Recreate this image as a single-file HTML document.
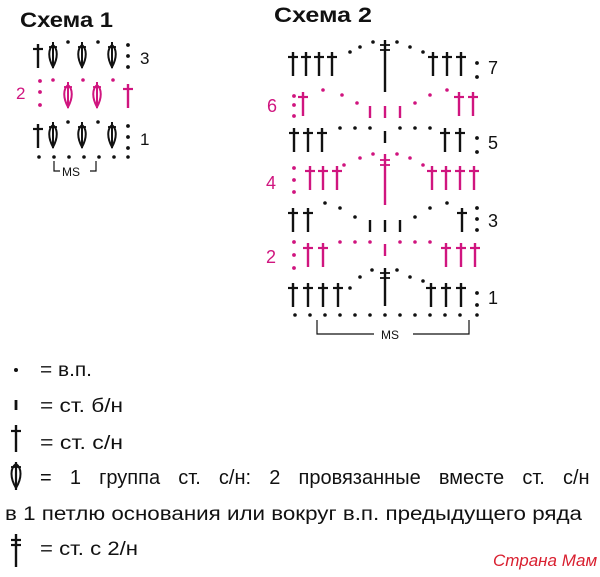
<!DOCTYPE html>
<html><head><meta charset="utf-8"><style>
html,body{margin:0;padding:0;background:#fff;}
svg{display:block;}
text{font-family:"Liberation Sans",sans-serif;}
</style></head><body>
<svg width="600" height="577" viewBox="0 0 600 577" xmlns="http://www.w3.org/2000/svg">
<defs>
<g id="dc"><line x1="0" y1="0" x2="0" y2="24" stroke-width="2.4"/><line x1="-5" y1="5" x2="5" y2="5" stroke-width="2.2"/></g>
<g id="cl"><line x1="0" y1="-2" x2="0" y2="24" stroke-width="2"/><path d="M0,1 C-5,5 -5,14 0,23 C5,14 5,5 0,1 Z" fill="none" stroke-width="2"/><line x1="-4" y1="3" x2="4" y2="3" stroke-width="1.8"/></g>
<g id="sc"><line x1="0" y1="0" x2="0" y2="12" stroke-width="2.4"/></g>
</defs>

<!-- Scheme 1 -->
<text x="20" y="27" font-size="21" font-weight="bold" fill="#111" textLength="93" lengthAdjust="spacingAndGlyphs">Схема 1</text>
<g stroke="#111" fill="#111">
<use href="#dc" x="38" y="44"/>
<use href="#cl" x="53" y="44"/><use href="#cl" x="82" y="44"/><use href="#cl" x="112" y="44"/>
<circle cx="68" cy="42" r="1.3"/><circle cx="98" cy="42" r="1.3"/>
<circle cx="128" cy="45" r="1.4"/><circle cx="128" cy="56" r="1.4"/><circle cx="128" cy="67" r="1.4"/>
<use href="#dc" x="38" y="124"/>
<use href="#cl" x="53" y="124"/><use href="#cl" x="82" y="124"/><use href="#cl" x="112" y="124"/>
<circle cx="68" cy="122" r="1.3"/><circle cx="98" cy="122" r="1.3"/>
<circle cx="128" cy="126" r="1.4"/><circle cx="128" cy="137" r="1.4"/><circle cx="128" cy="148" r="1.4"/>
<circle cx="39" cy="157" r="1.3"/><circle cx="54" cy="157" r="1.3"/><circle cx="69" cy="157" r="1.3"/><circle cx="84" cy="157" r="1.3"/><circle cx="99" cy="157" r="1.3"/><circle cx="114" cy="157" r="1.3"/><circle cx="128" cy="157" r="1.3"/>
<polyline points="54,161 54,171 60,171" fill="none" stroke-width="1.2"/>
<polyline points="90,171 96,171 96,161" fill="none" stroke-width="1.2"/>
</g>
<text x="62" y="176" font-size="12" fill="#111">MS</text>
<text x="140" y="64" font-size="17" fill="#111">3</text>
<text x="140" y="145" font-size="17" fill="#111">1</text>
<g stroke="#d0157f" fill="#d0157f">
<circle cx="40" cy="81" r="1.4"/><circle cx="40" cy="92" r="1.4"/><circle cx="40" cy="105" r="1.4"/>
<circle cx="53" cy="80" r="1.3"/><circle cx="83" cy="80" r="1.3"/><circle cx="113" cy="80" r="1.3"/>
<use href="#cl" x="68" y="84"/><use href="#cl" x="97" y="84"/>
<use href="#dc" x="128" y="84"/>
</g>
<text x="16" y="99" font-size="17" fill="#d0157f">2</text>

<!-- Scheme 2 -->
<text x="274" y="22" font-size="21" font-weight="bold" fill="#111" textLength="98" lengthAdjust="spacingAndGlyphs">Схема 2</text>
<g stroke="#111" fill="#111">
<use href="#dc" x="293" y="52"/><use href="#dc" x="306" y="52"/><use href="#dc" x="319" y="52"/><use href="#dc" x="332" y="52"/>
<use href="#dc" x="433" y="52"/><use href="#dc" x="447" y="52"/><use href="#dc" x="461" y="52"/>
<line x1="385" y1="40" x2="385" y2="92" stroke-width="2.4"/><line x1="380" y1="45" x2="390" y2="45" stroke-width="1.8"/><line x1="380" y1="50" x2="390" y2="50" stroke-width="1.8"/>
<circle cx="350" cy="52" r="1.3"/><circle cx="360" cy="47" r="1.3"/><circle cx="373" cy="42" r="1.3"/><circle cx="397" cy="42" r="1.3"/><circle cx="410" cy="47" r="1.3"/><circle cx="423" cy="52" r="1.3"/>
<circle cx="477" cy="63" r="1.4"/><circle cx="477" cy="77" r="1.4"/>
<use href="#dc" x="294" y="128"/><use href="#dc" x="308" y="128"/><use href="#dc" x="322" y="128"/>
<use href="#dc" x="445" y="128"/><use href="#dc" x="460" y="128"/>
<circle cx="340" cy="128" r="1.3"/><circle cx="355" cy="128" r="1.3"/><circle cx="370" cy="128" r="1.3"/><circle cx="400" cy="128" r="1.3"/><circle cx="415" cy="128" r="1.3"/><circle cx="430" cy="128" r="1.3"/>
<use href="#sc" x="385" y="131"/>
<circle cx="477" cy="138" r="1.4"/><circle cx="477" cy="152" r="1.4"/>
<use href="#dc" x="293" y="208"/><use href="#dc" x="308" y="208"/>
<use href="#dc" x="462" y="208"/>
<circle cx="325" cy="203" r="1.3"/><circle cx="340" cy="208" r="1.3"/><circle cx="355" cy="217" r="1.3"/><circle cx="415" cy="217" r="1.3"/><circle cx="430" cy="208" r="1.3"/><circle cx="447" cy="203" r="1.3"/>
<use href="#sc" x="370" y="220"/><use href="#sc" x="385" y="220"/><use href="#sc" x="400" y="220"/>
<circle cx="477" cy="208" r="1.4"/><circle cx="477" cy="219" r="1.4"/><circle cx="477" cy="230" r="1.4"/>
<use href="#dc" x="293" y="283"/><use href="#dc" x="308" y="283"/><use href="#dc" x="323" y="283"/><use href="#dc" x="338" y="283"/>
<use href="#dc" x="431" y="283"/><use href="#dc" x="446" y="283"/><use href="#dc" x="461" y="283"/>
<line x1="385" y1="268" x2="385" y2="306" stroke-width="2.4"/><line x1="380" y1="273" x2="390" y2="273" stroke-width="1.8"/><line x1="380" y1="278" x2="390" y2="278" stroke-width="1.8"/>
<circle cx="350" cy="288" r="1.3"/><circle cx="360" cy="277" r="1.3"/><circle cx="372" cy="270" r="1.3"/><circle cx="397" cy="270" r="1.3"/><circle cx="410" cy="277" r="1.3"/><circle cx="423" cy="281" r="1.3"/>
<circle cx="477" cy="293" r="1.4"/><circle cx="477" cy="305" r="1.4"/>
<circle cx="295" cy="315" r="1.3"/><circle cx="310" cy="315" r="1.3"/><circle cx="325" cy="315" r="1.3"/><circle cx="340" cy="315" r="1.3"/><circle cx="355" cy="315" r="1.3"/><circle cx="370" cy="315" r="1.3"/><circle cx="385" cy="315" r="1.3"/><circle cx="400" cy="315" r="1.3"/><circle cx="415" cy="315" r="1.3"/><circle cx="430" cy="315" r="1.3"/><circle cx="445" cy="315" r="1.3"/><circle cx="460" cy="315" r="1.3"/><circle cx="477" cy="315" r="1.3"/>
<polyline points="317,320 317,334 374,334" fill="none" stroke-width="1.2"/>
<polyline points="413,334 469,334 469,320" fill="none" stroke-width="1.2"/>
</g>
<text x="381" y="339" font-size="12" fill="#111">MS</text>
<text x="488" y="74" font-size="18" fill="#111">7</text>
<text x="488" y="149" font-size="18" fill="#111">5</text>
<text x="488" y="227" font-size="18" fill="#111">3</text>
<text x="488" y="304" font-size="18" fill="#111">1</text>

<g stroke="#d0157f" fill="#d0157f">
<circle cx="294" cy="96" r="1.4"/><circle cx="294" cy="105" r="1.4"/><circle cx="294" cy="116" r="1.4"/>
<use href="#dc" x="303" y="92"/>
<circle cx="323" cy="90" r="1.3"/><circle cx="342" cy="95" r="1.3"/><circle cx="357" cy="103" r="1.3"/><circle cx="415" cy="103" r="1.3"/><circle cx="430" cy="95" r="1.3"/><circle cx="447" cy="90" r="1.3"/>
<use href="#sc" x="370" y="106"/><use href="#sc" x="385" y="106"/><use href="#sc" x="400" y="106"/>
<use href="#dc" x="459" y="92"/><use href="#dc" x="473" y="92"/>
<circle cx="294" cy="168" r="1.4"/><circle cx="294" cy="180" r="1.4"/><circle cx="294" cy="192" r="1.4"/>
<use href="#dc" x="310" y="166"/><use href="#dc" x="323" y="166"/><use href="#dc" x="337" y="166"/>
<use href="#dc" x="432" y="166"/><use href="#dc" x="446" y="166"/><use href="#dc" x="460" y="166"/><use href="#dc" x="474" y="166"/>
<line x1="385" y1="154" x2="385" y2="205" stroke-width="2.4"/><line x1="380" y1="160" x2="390" y2="160" stroke-width="1.8"/><line x1="380" y1="165" x2="390" y2="165" stroke-width="1.8"/>
<circle cx="344" cy="165" r="1.3"/><circle cx="360" cy="158" r="1.3"/><circle cx="373" cy="154" r="1.3"/><circle cx="397" cy="154" r="1.3"/><circle cx="410" cy="158" r="1.3"/><circle cx="423" cy="165" r="1.3"/>
<circle cx="294" cy="242" r="1.4"/><circle cx="294" cy="255" r="1.4"/><circle cx="294" cy="268" r="1.4"/>
<use href="#dc" x="308" y="243"/><use href="#dc" x="323" y="243"/>
<use href="#dc" x="446" y="243"/><use href="#dc" x="461" y="243"/><use href="#dc" x="475" y="243"/>
<circle cx="340" cy="242" r="1.3"/><circle cx="355" cy="242" r="1.3"/><circle cx="370" cy="242" r="1.3"/><circle cx="400" cy="242" r="1.3"/><circle cx="415" cy="242" r="1.3"/><circle cx="430" cy="242" r="1.3"/>
<use href="#sc" x="385" y="244"/>
</g>
<text x="267" y="112" font-size="18" fill="#d0157f">6</text>
<text x="266" y="189" font-size="18" fill="#d0157f">4</text>
<text x="266" y="263" font-size="18" fill="#d0157f">2</text>

<!-- Legend -->
<g stroke="#111" fill="#111">
<circle cx="16" cy="370" r="1.5"/>
<line x1="16" y1="400" x2="16" y2="410" stroke-width="2.8"/>
<line x1="16" y1="425" x2="16" y2="452" stroke-width="2.4"/><line x1="11" y1="431" x2="21" y2="431" stroke-width="2.2"/>
<line x1="16" y1="462" x2="16" y2="490" stroke-width="2.2"/><path d="M16,464 C10,468 10,478 16,488 C22,478 22,468 16,464 Z" fill="none" stroke-width="2"/><line x1="11" y1="467" x2="21" y2="467" stroke-width="1.8"/>
<line x1="16" y1="534" x2="16" y2="567" stroke-width="2.4"/><line x1="11" y1="540" x2="21" y2="540" stroke-width="2.2"/><line x1="11" y1="545" x2="21" y2="545" stroke-width="2.2"/>
</g>
<g font-size="19" fill="#111">
<text x="40" y="376" textLength="52" lengthAdjust="spacingAndGlyphs">= в.п.</text>
<text x="40" y="412" textLength="83" lengthAdjust="spacingAndGlyphs">= ст. б/н</text>
<text x="40" y="449" textLength="83" lengthAdjust="spacingAndGlyphs">= ст. с/н</text>
<text x="40" y="484" font-size="20" word-spacing="12.6">= 1 группа ст. с/н: 2 провязанные вместе ст. с/н</text>
<text x="5" y="520" textLength="577" lengthAdjust="spacingAndGlyphs">в 1 петлю основания или вокруг в.п. предыдущего ряда</text>
<text x="40" y="555" textLength="98" lengthAdjust="spacingAndGlyphs">= ст. с 2/н</text>
</g>
<text x="493" y="566" font-size="17" font-style="italic" font-family="Liberation Serif, serif" fill="#d92030">Страна Мам</text>
</svg>
</body></html>
